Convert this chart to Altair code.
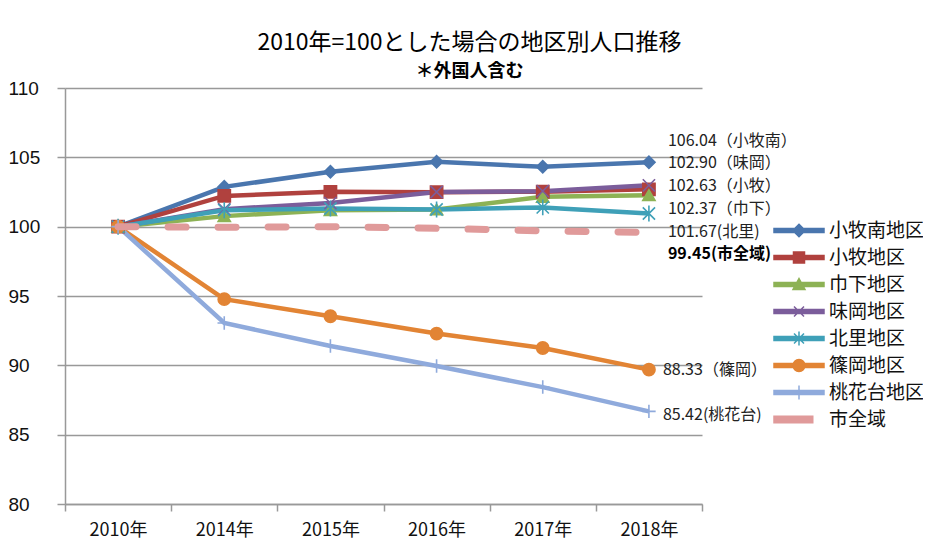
import altair as alt
import pandas as pd

years = ["2010年", "2014年", "2015年", "2016年", "2017年", "2018年"]
series = ["小牧南地区", "小牧地区", "巾下地区", "味岡地区", "北里地区", "篠岡地区", "桃花台地区", "市全域"]

komaki_minami = [100, 102.87, 103.96, 104.68, 104.32, 104.64]
komaki = [100, 102.22, 102.51, 102.49, 102.52, 102.69]
hakashita = [100, 100.76, 101.19, 101.24, 102.15, 102.27]
ajioka = [100, 101.26, 101.70, 102.50, 102.56, 102.98]
kitasato = [100, 101.19, 101.31, 101.24, 101.39, 100.95]
shinooka = [100, 94.77, 93.54, 92.29, 91.25, 89.69]
momokadai = [100, 93.05, 91.39, 89.95, 88.43, 86.68]
city = [100, 99.95, 100.0, 99.88, 99.70, 99.59]

values = [komaki_minami, komaki, hakashita, ajioka, kitasato, shinooka, momokadai, city]

colors = ["#4A76AE", "#B0413E", "#8DB255", "#7B5D9B", "#3FA0B8", "#E28434", "#8FAADC", "#E09A9A"]

# end-of-line annotations
label_texts = ["106.04（小牧南）", "102.90（味岡）", "102.63（小牧）", "102.37（巾下）",
               "101.67(北里)", "99.45(市全域)", "88.33（篠岡）", "85.42(桃花台)"]
label_y = [106.17, 104.58, 102.92, 101.26, 99.60, 98.01, 89.64, 86.39]
label_bold = [False, False, False, False, False, True, False, False]
label_shift = [19, 19, 19, 19, 19, 19, 14, 14]

rows = []
for s, vals in zip(series, values):
    for y, v in zip(years, vals):
        rows.append({"year": y, "series": s, "value": v})
df = pd.DataFrame(rows)

ann = pd.DataFrame({"year": ["2018年"] * len(label_texts), "text": label_texts,
                    "y": label_y, "bold": label_bold, "shift": label_shift})

marker_shapes = [
    "diamond",
    "square",
    "triangle-up",
    "M-1,-1L1,1M-1,1L1,-1",
    "M-1,-1L1,1M-1,1L1,-1M0,-1.3V1.3",
    "circle",
    "M-1.1,0H1.1M0,-1.1V1.1",
    "M0,0",
]

bar = "M-1,-0.08H1V0.08H-1Z"
legend_shapes = [
    bar + "M0,-0.25L0.25,0L0,0.25L-0.25,0Z",
    bar + "M-0.22,-0.22H0.22V0.22H-0.22Z",
    bar + "M0,-0.24L0.24,0.2H-0.24Z",
    bar + "M-0.2,-0.2L0.2,0.2M-0.2,0.2L0.2,-0.2",
    bar + "M-0.2,-0.2L0.2,0.2M-0.2,0.2L0.2,-0.2M0,-0.28V0.28",
    bar + "M-0.24,0A0.24,0.24 0 1,1 0.24,0A0.24,0.24 0 1,1 -0.24,0Z",
    bar + "M0,-0.28V0.28",
    "M-1,-0.13H0.55V0.13H-1Z",
]

x_enc = alt.X("year:N", sort=years, scale=alt.Scale(domain=years),
              axis=alt.Axis(title=None, labelFontSize=18, labelColor="#111",
                            labelFont="Noto Sans CJK JP", labelAngle=0,
                            labelPadding=10, tickSize=7, tickBand="extent",
                            tickColor="#999", tickWidth=1.5, domainColor="#999",
                            domainWidth=1.5, grid=False))
y_enc = alt.Y("value:Q", scale=alt.Scale(domain=[80, 110], nice=False, zero=False),
              axis=alt.Axis(title=None, values=[80, 85, 90, 95, 100, 105, 110],
                            labelFontSize=19, labelColor="#111", labelFont="Liberation Sans",
                            labelAlign="left", labelPadding=49, tickSize=8,
                            tickColor="#999", tickWidth=1.5, domainColor="#999",
                            domainWidth=1.5, gridColor="#999", gridWidth=1.5))

color_scale = alt.Scale(domain=series, range=colors)

base = alt.Chart(df)

lines = base.transform_filter(alt.datum.series != "市全域").mark_line(strokeWidth=4.5).encode(
    x=x_enc, y=y_enc,
    color=alt.Color("series:N", scale=color_scale, legend=None, sort=series),
    order=alt.Order("year:N"),
)

points = base.transform_filter(alt.datum.series != "市全域").mark_point(
    filled=True, size=150, strokeWidth=1.6, opacity=1).encode(
    x=alt.X("year:N", sort=years),
    y="value:Q",
    fill=alt.Fill("series:N", scale=color_scale, legend=None),
    stroke=alt.Stroke("series:N", scale=color_scale, legend=None),
    shape=alt.Shape("series:N", scale=alt.Scale(domain=series, range=marker_shapes), legend=None),
)

dashed = base.transform_filter(alt.datum.series == "市全域").mark_line(
    strokeWidth=7, strokeDash=[18, 32], strokeCap="round").encode(
    x=alt.X("year:N", sort=years),
    y="value:Q",
    color=alt.Color("series:N", scale=color_scale, legend=None),
)

legend_layer = base.transform_filter(alt.datum.series == "__none__").mark_point(
    filled=True, strokeWidth=1.5, opacity=1).encode(
    x=alt.X("year:N", sort=years),
    y="value:Q",
    fill=alt.Fill("series:N", scale=alt.Scale(domain=series, range=colors),
                  legend=alt.Legend(title=None, orient="none", legendX=708, legendY=129,
                                    symbolSize=2500, clipHeight=27, rowPadding=0,
                                    labelFontSize=19, labelColor="#111",
                                    labelFont="Noto Sans CJK JP", labelOffset=4,
                                    symbolStrokeWidth=1.5, padding=0, symbolOpacity=1)),
    stroke=alt.Stroke("series:N", scale=alt.Scale(domain=series, range=colors)),
    shape=alt.Shape("series:N", scale=alt.Scale(domain=series, range=legend_shapes)),
)

labels_a = alt.Chart(ann).transform_filter("datum.shift == 19 && !datum.bold").mark_text(
    align="left", baseline="middle", fontSize=16, font="Noto Sans CJK JP",
    color="#222", dx=19).encode(x=alt.X("year:N", sort=years), y="y:Q", text="text:N")
labels_b = alt.Chart(ann).transform_filter("datum.bold").mark_text(
    align="left", baseline="middle", fontSize=16, font="Noto Sans CJK JP",
    fontWeight="bold", color="#000", dx=19).encode(x=alt.X("year:N", sort=years), y="y:Q", text="text:N")
labels_c = alt.Chart(ann).transform_filter("datum.shift == 14").mark_text(
    align="left", baseline="middle", fontSize=16, font="Noto Sans CJK JP",
    color="#222", dx=14).encode(x=alt.X("year:N", sort=years), y="y:Q", text="text:N")

chart = alt.layer(lines, points, dashed, legend_layer, labels_a, labels_b, labels_c).resolve_scale(
    shape="independent", fill="independent", stroke="independent"
).properties(
    width=637, height=416,
    padding={"left": 57, "top": 80, "right": 221, "bottom": 46},
    autosize=alt.AutoSizeParams(type="none"),
    background="white",
    title=alt.TitleParams(text="2010年=100とした場合の地区別人口推移",
                          subtitle="＊外国人含む", anchor="middle", dx=86, offset=-2,
                          font="Noto Sans CJK JP", fontSize=23, fontWeight="normal",
                          color="#000", subtitleFont="Noto Sans CJK JP",
                          subtitleFontSize=18, subtitleFontWeight="bold",
                          subtitleColor="#000", subtitlePadding=8),
).configure_view(stroke=None)

chart.save("out.html", embed_options={"renderer": "svg", "actions": False})
